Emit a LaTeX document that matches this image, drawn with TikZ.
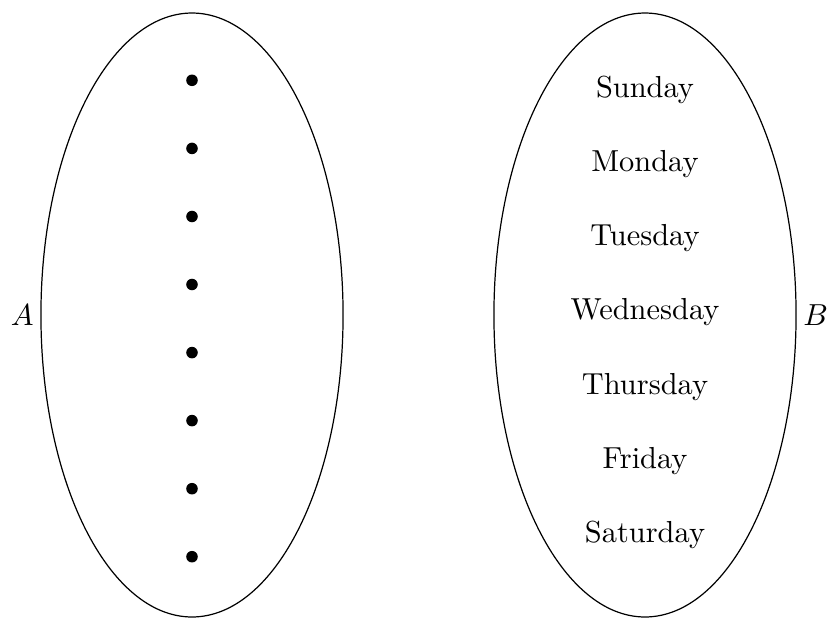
\documentclass[tikz,border=0pt]{standalone}
\usetikzlibrary{shapes.geometric}
\begin{document}
\begin{tikzpicture}[x=0.329pt,y=-0.329pt,
  setshape/.style={draw,ellipse,inner sep=0pt,outer sep=0pt,minimum width=99.4pt,minimum height=198.7pt},
  elemdot/.style={fill,circle,inner sep=0pt,minimum size=3.8pt},
  setlabel/.style={inner sep=2.2pt},
  daytext/.style={anchor=base,inner sep=0pt}]
\useasboundingbox (0,0) rectangle (828,618);
\node[setshape] (A) at (192,315) {};
\node[setshape] (B) at (645,315) {};
\node[setlabel,anchor=east] (la) at (A.west) {$A$};
\node[setlabel,anchor=west] (lb) at (B.east) {$B$};
\foreach \i/\y in {1/80.3,2/148.4,3/216.5,4/284.5,5/352.6,6/420.6,7/488.7,8/556.7}
  \node[elemdot] (d\i) at (192,\y) {};
\node[daytext] (sun) at (645,97) {Sunday};
\node[daytext] (mon) at (645,171.3) {Monday};
\node[daytext] (tue) at (645,245.6) {Tuesday};
\node[daytext] (wed) at (645,319.9) {Wednesday};
\node[daytext] (thu) at (645,394.2) {Thursday};
\node[daytext] (fri) at (645,468.5) {Friday};
\node[daytext] (sat) at (645,542.8) {Saturday};
\end{tikzpicture}
\end{document}
